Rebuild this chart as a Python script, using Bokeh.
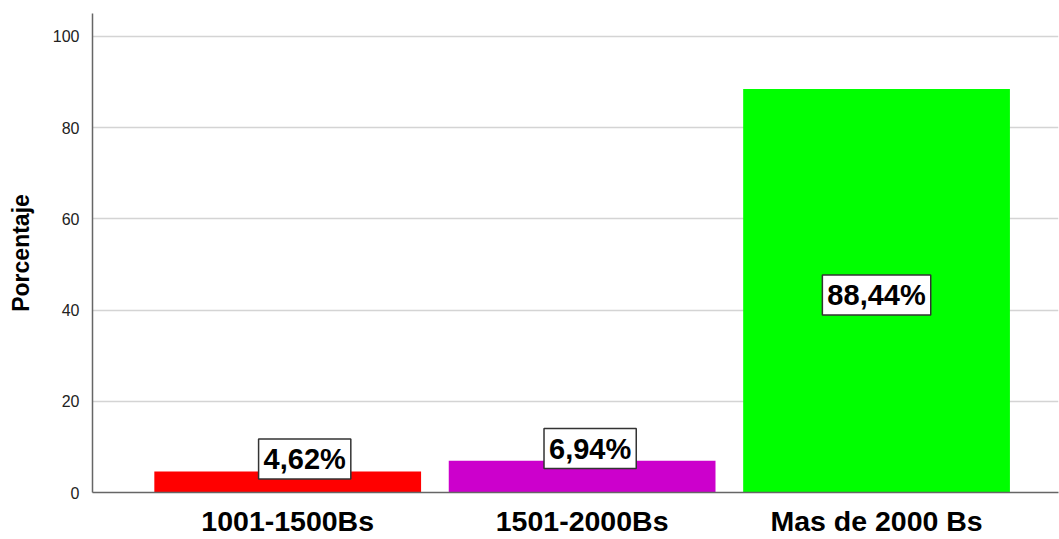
from bokeh.plotting import figure
from bokeh.models import ColumnDataSource, FixedTicker, Range1d
from bokeh.core.properties import value
from bokeh.embed import file_html
from bokeh.resources import INLINE

categories = ["1001-1500Bs", "1501-2000Bs", "Mas de 2000 Bs"]
values = [4.62, 6.94, 88.44]
colors = ["#FF0000", "#CC00CC", "#00FF00"]
y_ticks = [0, 20, 40, 60, 80, 100]

xs = [1, 2, 3]
label_text = [f"{v:.2f}%".replace(".", ",") for v in values]
label_y = [v + 2.7 if v < 20 else v / 2 - 0.9 for v in values]
label_dx = [17, 8, 0]  # pixel nudges of the value boxes (style only)

src = ColumnDataSource(dict(x=xs, top=values, color=colors, text=label_text, ly=label_y, dx=label_dx))

p = figure(width=1059, height=539, output_backend="svg", toolbar_location=None,
           x_range=Range1d(0.337, 3.618), y_range=Range1d(0, 105),
           min_border_left=92, min_border_top=13, min_border_right=1, min_border_bottom=44)
p.outline_line_color = None
p.background_fill_color = "white"

p.vbar(x="x", top="top", width=0.906, bottom=0, fill_color="color", line_color=None, source=src)

p.text(x="x", y="ly", text="text", source=src, x_offset="dx", text_align="center", text_baseline="middle",
       text_font=value("Liberation Sans"), text_font_style="bold", text_font_size="29px",
       text_color="black", background_fill_color="white", border_line_color="#333333",
       border_line_width=1.5, padding=(5, 4))

p.xaxis.ticker = FixedTicker(ticks=xs)
p.xaxis.major_label_overrides = {x: c for x, c in zip(xs, categories)}
p.xaxis.major_label_text_font = "Liberation Sans"
p.xaxis.major_label_text_font_style = "bold"
p.xaxis.major_label_text_font_size = "28.5px"
p.xaxis.major_label_text_color = "black"
p.xaxis.major_tick_line_color = None
p.xaxis.minor_tick_line_color = None
p.xaxis.axis_line_color = "#666666"
p.xaxis.axis_line_width = 1.5
p.xaxis.major_label_standoff = 6

p.yaxis.ticker = FixedTicker(ticks=y_ticks)
p.yaxis.major_label_text_font = "Liberation Sans"
p.yaxis.major_label_text_font_size = "16px"
p.yaxis.major_label_text_color = "#222222"
p.yaxis.major_tick_line_color = None
p.yaxis.minor_tick_line_color = None
p.yaxis.axis_line_color = "#666666"
p.yaxis.axis_line_width = 1.5
p.yaxis.major_label_standoff = 7
p.yaxis.axis_label = "Porcentaje"
p.yaxis.axis_label_text_font = "Liberation Sans"
p.yaxis.axis_label_text_font_style = "bold"
p.yaxis.axis_label_text_font_size = "23px"
p.yaxis.axis_label_text_color = "black"
p.yaxis.axis_label_standoff = 16

p.xgrid.grid_line_color = None
p.ygrid.grid_line_color = "#d4d4d4"
p.ygrid.grid_line_width = 1.5
p.ygrid.ticker = FixedTicker(ticks=[20, 40, 60, 80, 100])

open("out.html", "w").write(file_html(p, INLINE))
